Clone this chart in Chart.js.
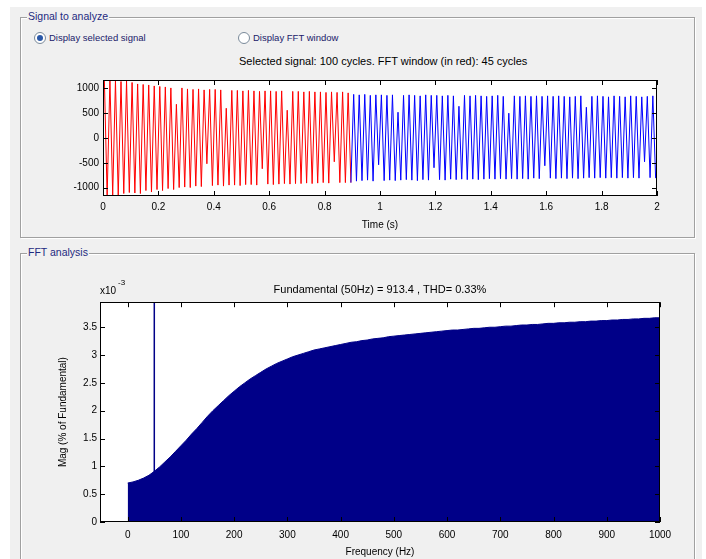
<!DOCTYPE html>
<html>
<head>
<meta charset="utf-8">
<script src="https://cdn.jsdelivr.net/npm/chart.js@4/dist/chart.umd.min.js"></script>
<style>
  body { margin: 0; background: #fff; font-family: "Liberation Sans", Arial, sans-serif; }
  #fig { position: absolute; left: 10px; top: 7px; width: 692px; height: 552px; background: #f0f0f0; }
  .frame { position: absolute; border: 1px solid #a0a0a0; box-shadow: 1px 1px 0 #fff inset, 1px 1px 0 #fff; }
  .ptitle { position: absolute; background: #f0f0f0; color: #1e2a80; font-size: 10.5px; padding: 0 1px; line-height: 12px; }
  .radio { position: absolute; font-size: 9.5px; color: #20206a; line-height: 12px; }
  .radio i { display: inline-block; width: 10px; height: 10px; border: 1px solid #7a8a9a; border-radius: 50%; background: #fff; vertical-align: -3px; margin-right: 3px; position: relative; }
  .radio i.on::after { content: ""; position: absolute; left: 2px; top: 2px; width: 6px; height: 6px; border-radius: 50%; background: #2a58a8; }
  #sigTitle { position: absolute; left: 239px; top: 55px; font-size: 11px; color: #000; white-space: nowrap; }
  canvas { position: absolute; }
</style>
</head>
<body>
<div id="fig"></div>
<div class="frame" style="left:20px;top:17px;width:673px;height:219px"></div>
<div class="ptitle" style="left:27px;top:10px">Signal to analyze</div>
<div class="radio" style="left:34px;top:32px"><i class="on"></i>Display selected signal</div>
<div class="radio" style="left:238px;top:32px"><i></i>Display FFT window</div>
<div id="sigTitle">Selected signal: 100 cycles. FFT window (in red): 45 cycles</div>
<div class="frame" style="left:20px;top:253px;width:673px;height:320px"></div>
<div class="ptitle" style="left:27px;top:246px">FFT analysis</div>
<canvas id="sig" width="650" height="165" style="left:40px;top:70px"></canvas>
<canvas id="fft" width="650" height="284" style="left:40px;top:275px"></canvas>
<script>
// --- DATA ---
// signal peaks, one per half cycle (50 Hz -> every 0.01 s)
const halfCycle = 0.01;
const fftWindowPeaks = [
  1170, -1180, 1180, -1150, 1160, -1170, 1140, -1120, 1150, -1100,
  1120, -1110, 1090, -1120, 1080, -1060, 1070, -1090, 1050, -1040,
  1040, -1060, 1030, -1020, 1010, -1040, 680, -1000, 1010, -990,
  990, -1000, 980, -970, 990, -980, 970, -520, 980, -960,
  980, -950, 970, -970, 600, -950, 960, -950, 960, -960,
  950, -940, 960, -940, 950, -950, 940, -620, 950, -930,
  950, -940, 940, -930, 950, -920, 560, -930, 940, -920,
  940, -920, 930, -910, 940, -920, 930, -910, 930, -900,
  920, -910, 930, -480, 920, -900, 930, -900, 910, -900
];
const restPeaks = [
  880, -870, 870, -860, 880, -850, 860, -870, 870, -540,
  870, -860, 860, -850, 870, -860, 520, -850, 860, -840,
  870, -850, 860, -860, 850, -840, 870, -850, 860, -600,
  860, -840, 850, -850, 860, -830, 850, -840, 640, -830,
  860, -840, 850, -830, 860, -840, 850, -830, 840, -820,
  850, -830, 860, -820, 840, -830, 500, -820, 850, -830,
  840, -820, 850, -830, 840, -810, 850, -820, 840, -560,
  850, -810, 840, -820, 850, -810, 840, -820, 830, -810,
  840, -820, 850, -810, 620, -800, 840, -810, 850, -800,
  840, -810, 830, -800, 850, -810, 840, -800, 830, -810,
  850, -800, 840, -810, 830, -480, 840, -800, 850, -810
];
const timeTicks = [0, 0.2, 0.4, 0.6, 0.8, 1, 1.2, 1.4, 1.6, 1.8, 2];
const signalTicks = [-1000, -500, 0, 500, 1000];

// harmonic spectrum, % of fundamental (x1e-3), one value per 10 Hz from 0 to 1000 Hz
const binHz = 10;
const spectrum = [
  0.70, 0.72, 0.75, 0.79, 0.84, 0.91, 0.99, 1.08, 1.17, 1.27,
  1.37, 1.47, 1.58, 1.68, 1.79, 1.90, 2.00, 2.09, 2.18, 2.27,
  2.35, 2.43, 2.50, 2.57, 2.63, 2.69, 2.75, 2.80, 2.85, 2.89,
  2.93, 2.97, 3.00, 3.03, 3.06, 3.09, 3.11, 3.13, 3.15, 3.17,
  3.19, 3.21, 3.23, 3.24, 3.26, 3.27, 3.29, 3.30, 3.31, 3.33,
  3.34, 3.35, 3.36, 3.37, 3.38, 3.39, 3.40, 3.41, 3.42, 3.43,
  3.44, 3.45, 3.45, 3.46, 3.47, 3.48, 3.48, 3.49, 3.50, 3.50,
  3.51, 3.52, 3.52, 3.53, 3.54, 3.54, 3.55, 3.55, 3.56, 3.57,
  3.57, 3.58, 3.58, 3.59, 3.59, 3.60, 3.60, 3.61, 3.61, 3.62,
  3.62, 3.63, 3.63, 3.64, 3.64, 3.65, 3.65, 3.66, 3.66, 3.67,
  3.67
];
const fundamentalHz = 50;
const fundamentalPct = 100;
const freqTicks = [0, 100, 200, 300, 400, 500, 600, 700, 800, 900, 1000];
const magTicks = [0, 0.5, 1, 1.5, 2, 2.5, 3, 3.5];

// --- HELPERS ---
Chart.defaults.font.family = '"Liberation Sans", Arial, sans-serif';
Chart.defaults.color = '#000';
const navy = '#000088';

// matlab style box with inward ticks on all four sides
const matlabAxes = {
  id: 'matlabAxes',
  beforeDatasetsDraw(chart) {
    const { ctx, chartArea: a } = chart;
    ctx.save();
    ctx.fillStyle = '#fff';
    ctx.fillRect(a.left, a.top, a.width, a.height);
    ctx.restore();
  },
  afterDraw(chart) {
    const { ctx, chartArea: a, scales: { x, y } } = chart;
    ctx.save();
    ctx.strokeStyle = '#000';
    ctx.lineWidth = 1;
    ctx.beginPath();
    x.ticks.forEach(t => {
      const px = Math.round(x.getPixelForValue(t.value)) + 0.5;
      ctx.moveTo(px, a.top); ctx.lineTo(px, a.top + 5);
      ctx.moveTo(px, a.bottom); ctx.lineTo(px, a.bottom - 5);
    });
    y.ticks.forEach(t => {
      const py = Math.round(y.getPixelForValue(t.value)) + 0.5;
      ctx.moveTo(a.left, py); ctx.lineTo(a.left + 5, py);
      ctx.moveTo(a.right, py); ctx.lineTo(a.right - 5, py);
    });
    ctx.stroke();
    ctx.strokeRect(Math.round(a.left) + 0.5, Math.round(a.top) + 0.5, Math.round(a.width) - 1, Math.round(a.height) - 1);
    const exp = chart.options.plugins.matlabAxes.exponent;
    if (exp) {
      ctx.fillStyle = '#000';
      ctx.font = '10px "Liberation Sans", Arial, sans-serif';
      ctx.textBaseline = 'alphabetic';
      ctx.fillText('x10', a.left, a.top - 8);
      ctx.font = '8px "Liberation Sans", Arial, sans-serif';
      ctx.fillText(exp, a.left + 18, a.top - 17);
    }
    ctx.restore();
  }
};

const tickFont = { size: 10 };
const axisBase = (ticks, size, fitKey, pad) => ({
  type: 'linear',
  grid: { display: false, drawTicks: false },
  border: { display: false },
  afterBuildTicks: s => { s.ticks = ticks.map(v => ({ value: v })); },
  afterFit: s => { s[fitKey] = size; },
  ticks: { padding: pad, font: tickFont, maxRotation: 0, autoSkip: false, callback: v => String(v) }
});

// --- SIGNAL CHART ---
const redPts = fftWindowPeaks.map((v, i) => ({ x: halfCycle / 2 + i * halfCycle, y: v }));
const bluePts = [redPts[redPts.length - 1]].concat(
  restPeaks.map((v, i) => ({ x: fftWindowPeaks.length * halfCycle + halfCycle / 2 + i * halfCycle, y: v })));

new Chart(document.getElementById('sig'), {
  type: 'line',
  data: {
    datasets: [
      { data: bluePts, borderColor: '#0000ff', borderWidth: 1, pointRadius: 0, tension: 0 },
      { data: redPts, borderColor: '#ff0000', borderWidth: 1, pointRadius: 0, tension: 0 }
    ]
  },
  options: {
    responsive: false, animation: false, events: [],
    layout: { padding: { top: 9, right: 33, left: 0, bottom: 0 } },
    plugins: { legend: { display: false }, tooltip: { enabled: false }, matlabAxes: {} },
    scales: {
      x: Object.assign(axisBase(timeTicks, 39, 'height', 5), {
        min: 0, max: 2,
        title: { display: true, text: 'Time (s)', font: { size: 10 }, padding: { top: 2, bottom: 4 } }
      }),
      y: Object.assign(axisBase(signalTicks, 63, 'width', 4), { min: -1170, max: 1170 })
    }
  },
  plugins: [matlabAxes]
});

// --- FFT CHART ---
const specPts = spectrum.map((v, i) => ({ x: i * binHz, y: v }));
const fundPts = [{ x: fundamentalHz, y: 0 }, { x: fundamentalHz, y: fundamentalPct }];

new Chart(document.getElementById('fft'), {
  type: 'line',
  data: {
    datasets: [
      { data: specPts, fill: 'origin', backgroundColor: navy, borderColor: navy, borderWidth: 1, pointRadius: 0, tension: 0 },
      { data: fundPts, borderColor: navy, borderWidth: 1.5, pointRadius: 0 }
    ]
  },
  options: {
    responsive: false, animation: false, events: [],
    layout: { padding: { top: 0, right: 30, left: 0, bottom: 0 } },
    plugins: {
      legend: { display: false }, tooltip: { enabled: false },
      matlabAxes: { exponent: '-3' },
      title: {
        display: true, fullSize: false, color: '#000',
        text: 'Fundamental (50Hz) = 913.4 , THD= 0.33%',
        font: { size: 11, weight: 'normal' }, padding: { top: 8, bottom: 6 }
      }
    },
    scales: {
      x: Object.assign(axisBase(freqTicks, 37, 'height', 7), {
        min: -52, max: 1000,
        title: { display: true, text: 'Frequency (Hz)', font: { size: 10 }, padding: { top: 2, bottom: 1 } }
      }),
      y: Object.assign(axisBase(magTicks, 60, 'width', 3), {
        min: 0, max: 3.95,
        title: { display: true, text: 'Mag (% of Fundamental)', font: { size: 10 }, padding: { top: 17, bottom: 2 } }
      })
    }
  },
  plugins: [matlabAxes]
});
</script>
</body>
</html>
